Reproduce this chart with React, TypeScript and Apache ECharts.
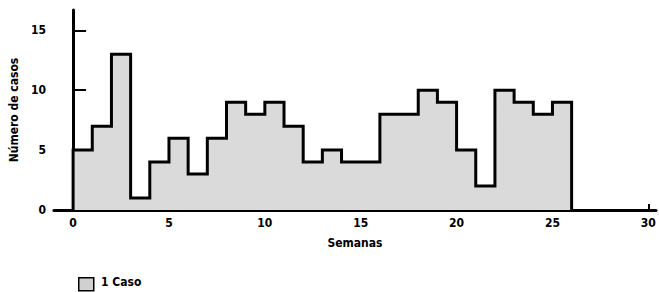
import React, { useEffect, useRef } from "react";
import * as echarts from "echarts";

const weeks: number[] = [0, 1, 2, 3, 4, 5, 6, 7, 8, 9, 10, 11, 12, 13, 14, 15, 16, 17, 18, 19, 20, 21, 22, 23, 24, 25];
const cases: number[] = [5, 7, 13, 1, 4, 6, 3, 6, 9, 8, 9, 7, 4, 5, 4, 4, 8, 8, 10, 9, 5, 2, 10, 9, 8, 9];
const xTicks: number[] = [0, 5, 10, 15, 20, 25, 30];
const yTicks: number[] = [0, 5, 10, 15];
const xName = "Semanas";
const yName = "Número de casos";
const legendLabel = "1 Caso";

const FONT = "DejaVu Sans Condensed";

export default function App() {
  const ref = useRef<HTMLDivElement>(null);
  useEffect(() => {
    if (!ref.current) return;
    const chart = echarts.init(ref.current, null, { renderer: "svg" });
    const pts: number[][] = [[weeks[0], 0]];
    weeks.forEach((w, i) => {
      pts.push([w, cases[i]]);
      pts.push([w + 1, cases[i]]);
    });
    pts.push([weeks[weeks.length - 1] + 1, 0]);
    chart.setOption({
      animation: false,
      backgroundColor: "#ffffff",
      grid: { left: 53, top: 10, right: 3, bottom: 82 },
      xAxis: {
        type: "value",
        min: -1,
        max: 30.4,
        splitLine: { show: false },
        axisLine: { show: true, onZero: false, lineStyle: { color: "#000", width: 3 } },
        axisTick: { show: true, inside: true, length: 6, customValues: xTicks, lineStyle: { color: "#000", width: 2 } },
        axisLabel: { customValues: xTicks, color: "#000", fontFamily: FONT, fontWeight: "bold", fontSize: 12, margin: 7 },
        name: xName,
        nameLocation: "middle",
        nameGap: 27,
        nameTextStyle: { color: "#000", fontFamily: FONT, fontWeight: "bold", fontSize: 12 },
      },
      yAxis: {
        type: "value",
        min: 0,
        max: 16.7,
        splitLine: { show: false },
        axisLine: { show: true, lineStyle: { color: "#000", width: 3 } },
        axisTick: { show: true, inside: true, length: 13, customValues: yTicks, lineStyle: { color: "#000", width: 2 } },
        axisLabel: { customValues: yTicks, color: "#000", fontFamily: FONT, fontWeight: "bold", fontSize: 12, margin: 8 },
        name: yName,
        nameLocation: "middle",
        nameGap: 30,
        nameTextStyle: { color: "#000", fontFamily: FONT, fontWeight: "bold", fontSize: 12 },
      },
      series: [
        {
          type: "line",
          name: legendLabel,
          data: pts,
          symbol: "none",
          lineStyle: { color: "#000", width: 3, join: "miter" },
          areaStyle: { color: "#dadada", opacity: 1, origin: 0 },
          z: 1,
        },
      ],
      graphic: [
        {
          type: "rect",
          left: 78,
          top: 277,
          shape: { width: 15, height: 13 },
          style: { fill: "#d0d0d0", stroke: "#000", lineWidth: 1.5 },
        },
        {
          type: "text",
          left: 101,
          top: 276,
          style: { text: legendLabel, fill: "#000", font: `bold 12px "${FONT}"` },
        },
      ],
    });
    return () => chart.dispose();
  }, []);
  return <div ref={ref} style={{ width: 659, height: 292, position: "absolute", left: 0, top: 0 }} />;
}
